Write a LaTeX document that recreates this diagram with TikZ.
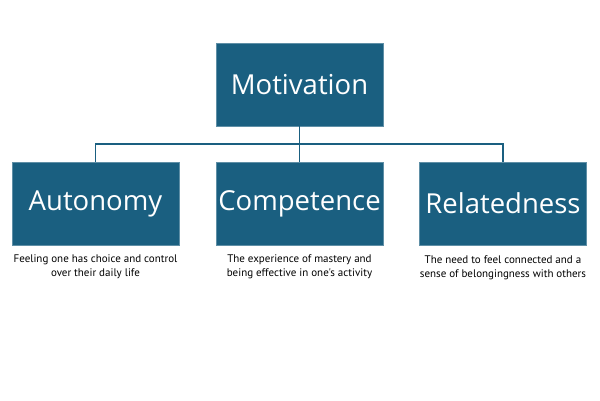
\documentclass[tikz,border=0pt]{standalone}
\usepackage{fontspec}
\newfontfamily\boxfont{Open Sans}
\newfontfamily\descfont{PT Sans}
\definecolor{boxblue}{HTML}{1A5F80}
\begin{document}
\begin{tikzpicture}[x=1pt,y=-1pt,
  box/.style={fill=boxblue, draw=boxblue!70!white, line width=0.5pt, minimum width=167pt, minimum height=83pt, inner sep=0pt, text=white, font=\boxfont\fontsize{27.5}{32}\selectfont},
  desc/.style={align=center, text=black, font=\descfont\fontsize{11}{14}\selectfont, inner sep=0pt},
  link/.style={draw=boxblue, line width=1.3pt}]
\useasboundingbox (0,0) rectangle (600,400);
\node[box] (mot) at (299.5,84.5) {Motivation};
\node[box] (aut) at (95.5,203.5) {Autonomy};
\node[box] (com) at (299.5,203.5) {Competence};
\node[box] (rel) at (503,203.5) {Relatedness};
\coordinate (bar) at (299.5,144);
\draw[link] (mot.south) -- (com.north);
\draw[link] (aut.north) |- (bar) -| (rel.north);
\node[desc] (daut) at (95.5,266.5) {Feeling one has choice and control\\over their daily life};
\node[desc] (dcom) at (299.5,266.5) {The experience of mastery and\\being effective in one's activity};
\node[desc] (drel) at (503,267.5) {The need to feel connected and a\\sense of belongingness with others};
\end{tikzpicture}
\end{document}
